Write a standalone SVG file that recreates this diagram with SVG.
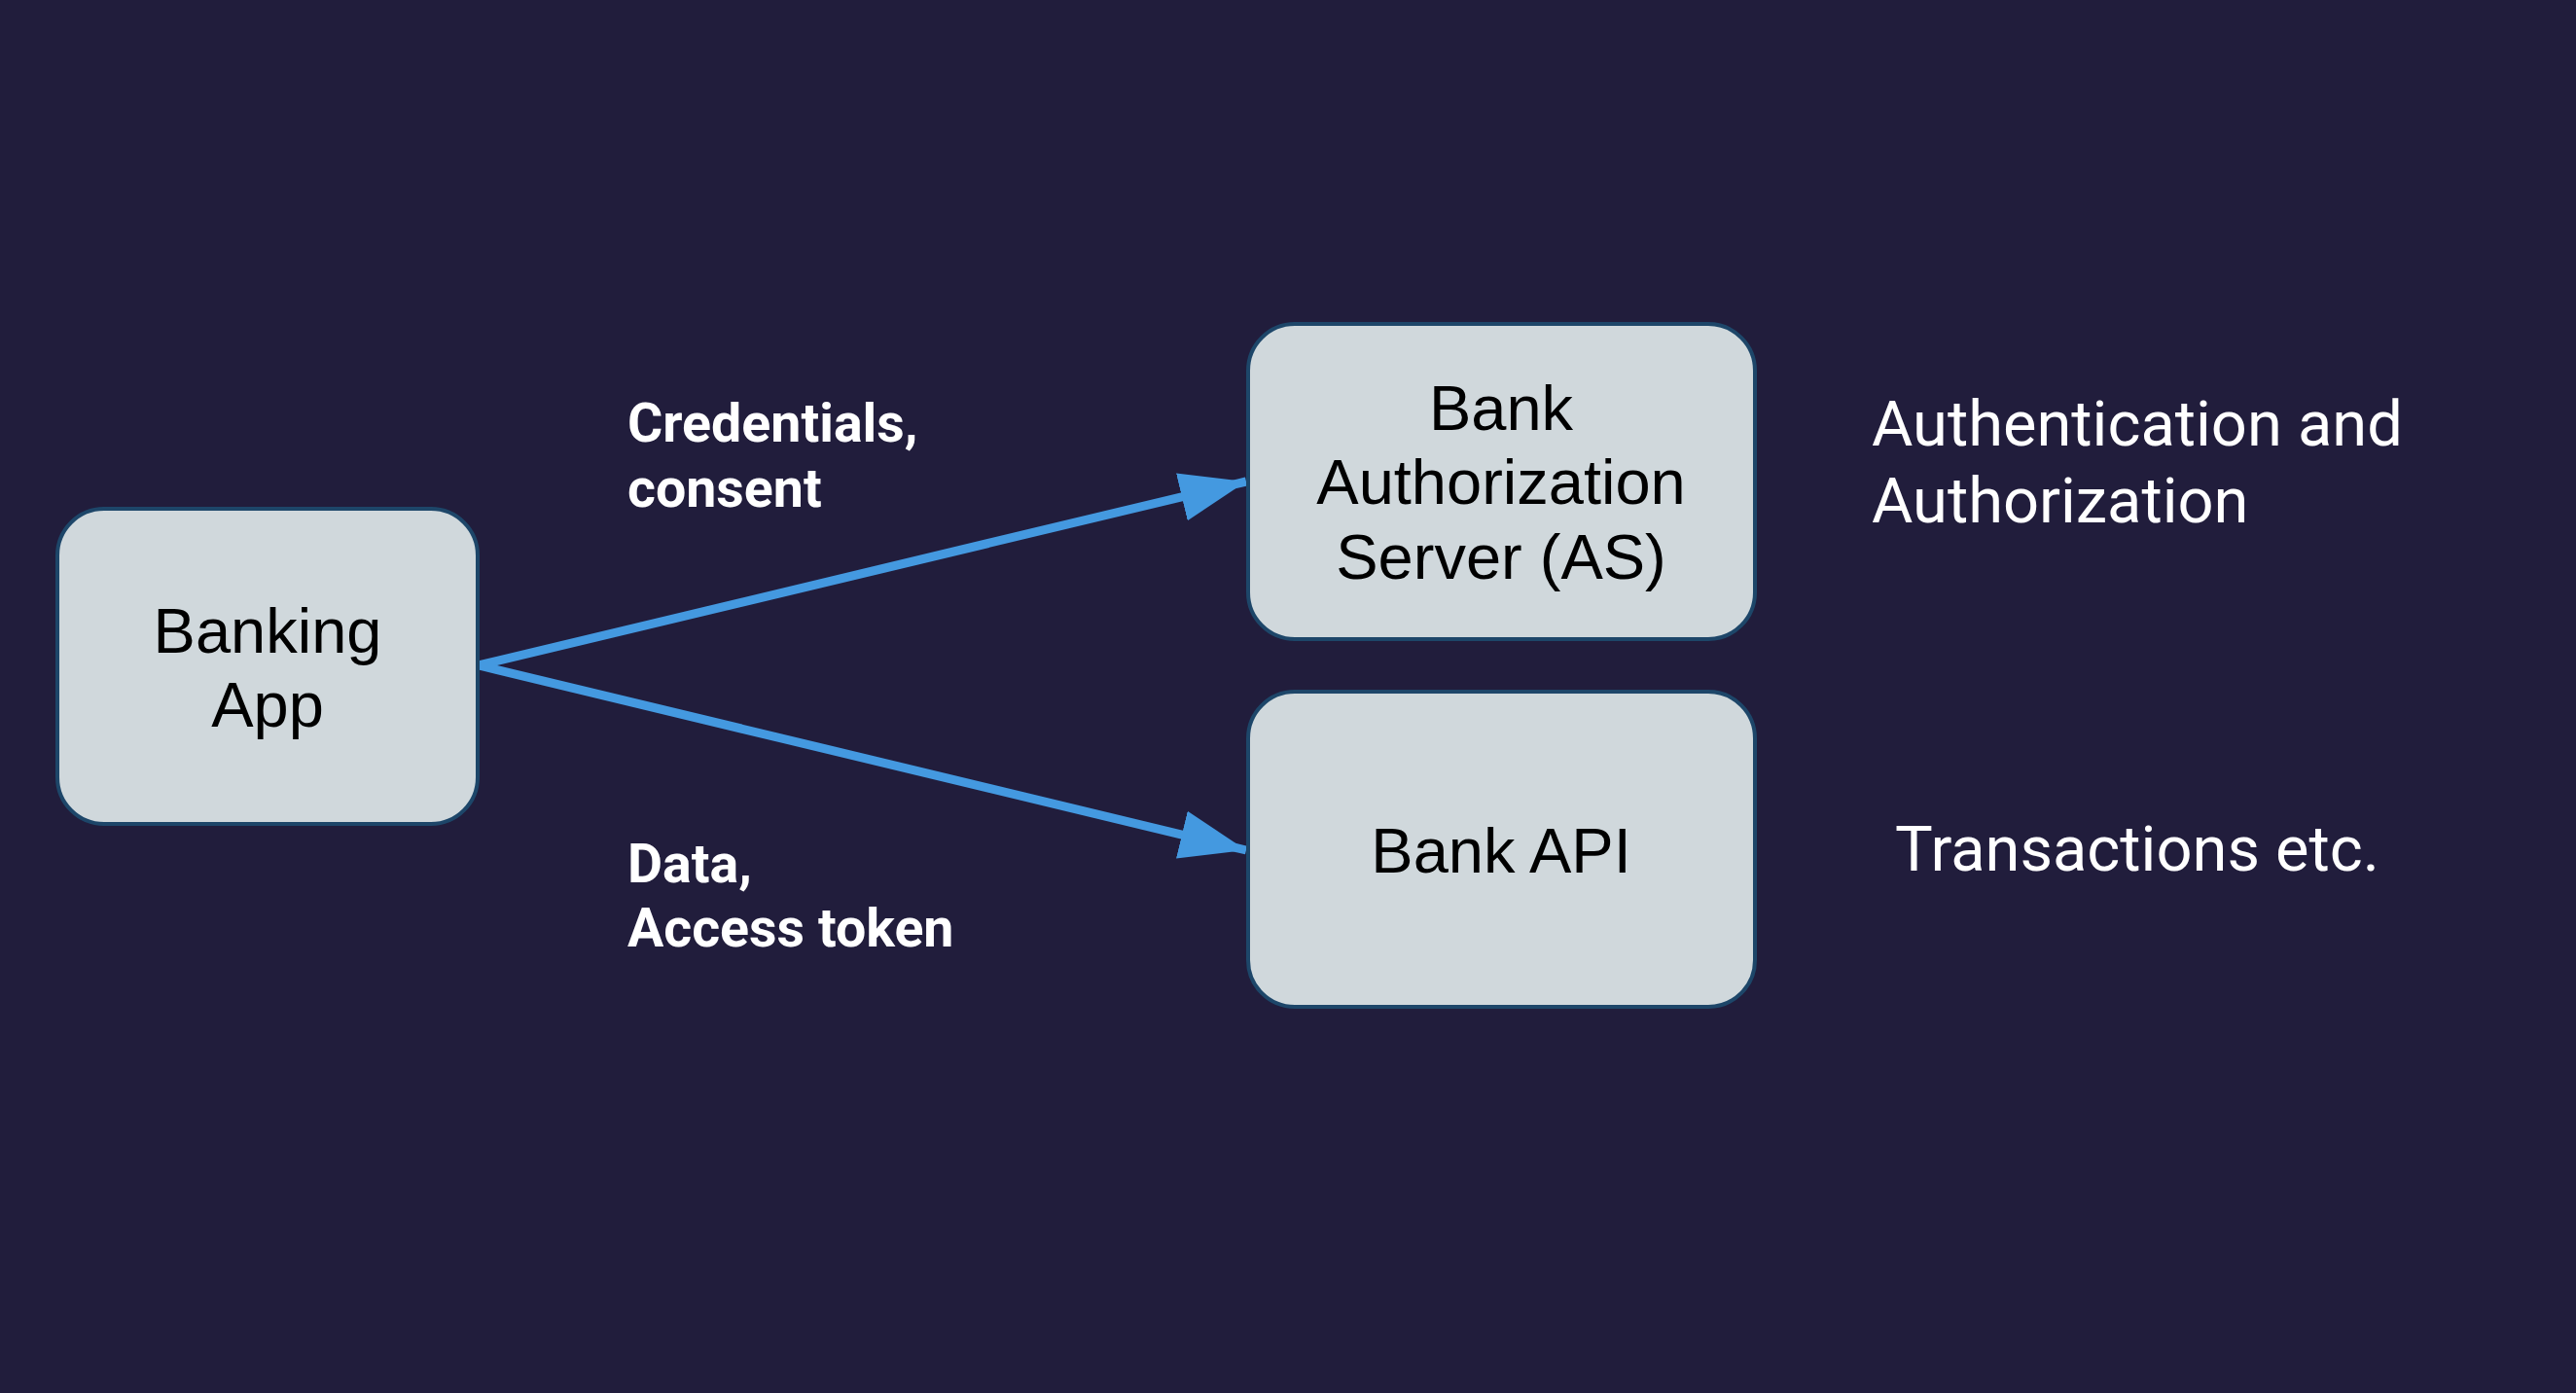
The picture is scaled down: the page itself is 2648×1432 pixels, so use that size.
<svg xmlns="http://www.w3.org/2000/svg" width="2648" height="1432" viewBox="0 0 2648 1432">
<style>
.node rect{fill:#d0d8dc;stroke:#1d4669;stroke-width:4}
.node text{font-family:"Liberation Sans",Arial,sans-serif;font-size:65px;fill:#000;text-anchor:middle}
.edge line{stroke:#4499e0;stroke-width:9;fill:none}
.elabel{font-family:Roboto,"Liberation Sans",sans-serif;font-weight:bold;font-size:55.5px;fill:#fff}
.note{font-family:Roboto,"Liberation Sans",sans-serif;font-size:65px;fill:#fff}
</style>
<defs>
<marker id="ah" markerUnits="userSpaceOnUse" markerWidth="70" markerHeight="52" refX="68" refY="25" orient="auto" viewBox="0 0 70 52">
<path d="M0,0 L68,25 L0,50 Z" fill="#4499e0"/>
</marker>
</defs>
<rect width="2648" height="1432" fill="#211d3c"/>
<g id="connectors" class="edge">
<line x1="492" y1="684" x2="1281" y2="495" marker-end="url(#ah)"/>
<line x1="492" y1="684" x2="1281" y2="874" marker-end="url(#ah)"/>
</g>
<g id="banking-app" class="node">
<rect x="59" y="523" width="432" height="324" rx="48"/>
<text x="275" y="671">Banking</text>
<text x="275" y="747">App</text>
</g>
<g id="bank-as" class="node">
<rect x="1283" y="333" width="521" height="324" rx="48"/>
<text x="1543" y="442">Bank</text>
<text x="1543" y="518">Authorization</text>
<text x="1543" y="595">Server (AS)</text>
</g>
<g id="bank-api" class="node">
<rect x="1283" y="711" width="521" height="324" rx="48"/>
<text x="1543" y="897">Bank API</text>
</g>
<g id="label-credentials">
<text class="elabel" x="645" y="454">Credentials,</text>
<text class="elabel" x="645" y="521">consent</text>
</g>
<g id="label-data">
<text class="elabel" x="645" y="907">Data,</text>
<text class="elabel" x="645" y="973">Access token</text>
</g>
<g id="note-auth">
<text class="note" x="1924" y="458">Authentication and</text>
<text class="note" x="1924" y="537">Authorization</text>
</g>
<g id="note-tx">
<text class="note" x="1948" y="895">Transactions etc.</text>
</g>
</svg>
